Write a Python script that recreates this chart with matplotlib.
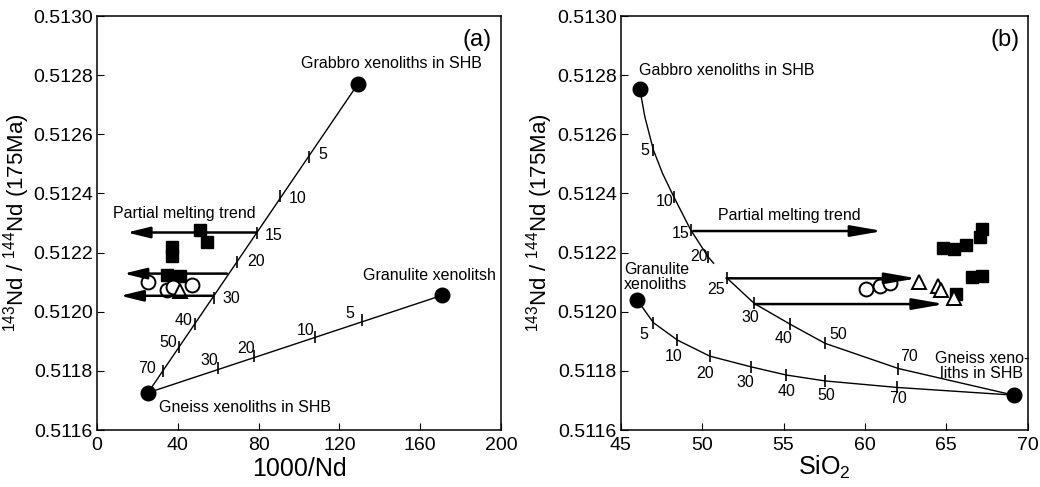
import matplotlib
matplotlib.use("Agg")
import matplotlib.pyplot as plt

plt.rcParams['font.family'] = ['Liberation Sans', 'DejaVu Sans']
plt.rcParams['mathtext.fontset'] = 'custom'
plt.rcParams['mathtext.rm'] = 'Liberation Sans'
plt.rcParams['mathtext.it'] = 'Liberation Sans'

# ---------------- panel (a): 1000/Nd ----------------
a_gabbro = (129.1, 0.51277)
a_gneiss = (25.2, 0.511726)
a_granulite = (171.0, 0.512056)

# mixing ticks, gabbro - gneiss line
a_up_frac = ["5", "10", "15", "20", "30", "40", "50", "70"]
a_up_x = [105.0, 90.7, 79.1, 69.3, 57.7, 48.3, 40.7, 32.6]
a_up_y = [0.512524, 0.51239, 0.512265, 0.512167, 0.512045, 0.51196, 0.511882, 0.5118]
# mixing ticks, granulite - gneiss line
a_lo_frac = ["5", "10", "20", "30"]
a_lo_x = [131.0, 107.7, 77.8, 59.7]
a_lo_y = [0.511972, 0.511916, 0.51185, 0.511811]

a_sq_x = [50.9, 54.5, 36.9, 37.3, 34.5, 41.1]
a_sq_y = [0.512276, 0.512237, 0.512219, 0.512188, 0.512123, 0.512121]
a_ci_x = [25.4, 34.5, 46.9, 37.8]
a_ci_y = [0.5121, 0.512072, 0.512091, 0.512084]
a_tr_x = [41.1]
a_tr_y = [0.512069]

# partial melting arrows: (tail x, tip x, y)
a_arr_tail = [79.1, 64.3, 57.7]
a_arr_tip = [14.8, 13.2, 11.5]
a_arr_y = [0.512268, 0.512129, 0.512054]

# ---------------- panel (b): SiO2 ----------------
b_gabbro = (46.17, 0.512752)
b_granulite = (46.0, 0.51204)
b_gneiss = (69.14, 0.511718)

# curve gabbro -> gneiss (drawn in two pieces)
b_c1a_x = [46.17, 46.47, 47.0, 47.56, 48.25, 49.3, 50.36, 50.7]
b_c1a_y = [0.512752, 0.51266, 0.512547, 0.512468, 0.512389, 0.512276, 0.512186, 0.512164]
b_c1b_x = [51.5, 53.2, 55.4, 57.56, 62.06, 65.6, 69.14]
b_c1b_y = [0.512115, 0.512028, 0.511958, 0.511893, 0.511808, 0.511763, 0.511718]
b_t1_frac = ["5", "10", "15", "20", "25", "30", "40", "50", "70"]
b_t1_x = [47.0, 48.25, 49.3, 50.36, 51.5, 53.2, 55.4, 57.56, 62.06]
b_t1_y = [0.512547, 0.512389, 0.512276, 0.512186, 0.512115, 0.512028, 0.511958, 0.511893, 0.511808]

# curve granulite -> gneiss
b_c2_x = [46.0, 47.0, 48.48, 50.46, 52.98, 55.17, 57.56, 61.98, 69.14]
b_c2_y = [0.51204, 0.511963, 0.511904, 0.51185, 0.511814, 0.511786, 0.511766, 0.511744, 0.511718]
b_t2_frac = ["5", "10", "20", "30", "40", "50", "70"]
b_t2_x = b_c2_x[1:8]
b_t2_y = b_c2_y[1:8]

b_sq_x = [64.8, 65.5, 66.2, 67.1, 67.2, 66.6, 67.2, 65.6]
b_sq_y = [0.512214, 0.512212, 0.512226, 0.512254, 0.512279, 0.512118, 0.512122, 0.51206]
b_ci_x = [60.04, 60.9, 61.55]
b_ci_y = [0.512076, 0.512087, 0.512096]
b_tr_x = [63.35, 64.5, 64.7, 65.5]
b_tr_y = [0.512102, 0.512087, 0.512073, 0.512045]

b_arr_tail = [49.44, 51.5, 53.2]
b_arr_tip = [61.1, 63.2, 64.9]
b_arr_y = [0.512273, 0.512113, 0.512026]

fig = plt.figure(figsize=(10.4, 4.87), dpi=100)
ax1 = fig.add_axes([0.0933, 0.117, 0.3885, 0.850])
ax2 = fig.add_axes([0.597, 0.117, 0.391, 0.850])

lab_kw = dict(fontsize=11.5, textcoords='offset pixels', va='center', ha='center')


def style_axis(ax):
    ax.set_ylim(0.5116, 0.5130)
    ax.set_yticks([0.5116, 0.5118, 0.5120, 0.5122, 0.5124, 0.5126, 0.5128, 0.5130])
    ax.yaxis.set_major_formatter(plt.FormatStrFormatter('%.4f'))
    ax.tick_params(direction='in', length=5, labelsize=14, top=False, right=False, pad=3)
    ax.tick_params(axis='x', pad=5)
    ax.set_ylabel(r'$^{143}$Nd / $^{144}$Nd (175Ma)', fontsize=16, labelpad=1)
    for s in ax.spines.values():
        s.set_linewidth(1.1)


def arrow(ax, tail, tip, y, hl):
    ax.annotate('', xy=(tip, y), xytext=(tail, y),
                arrowprops=dict(arrowstyle='-|>,head_length=%.2f,head_width=0.28' % hl,
                                lw=1.8, color='k', shrinkA=0, shrinkB=0,
                                mutation_scale=12))


# ---- panel a ----
ax1.plot([a_gneiss[0], a_gabbro[0]], [a_gneiss[1], a_gabbro[1]], color='k', lw=1.0)
ax1.plot([a_gneiss[0], a_granulite[0]], [a_gneiss[1], a_granulite[1]], color='k', lw=1.0)
ax1.plot(a_up_x, a_up_y, ls='none', marker='|', ms=9, mew=1.2, color='k')
ax1.plot(a_lo_x, a_lo_y, ls='none', marker='|', ms=9, mew=1.2, color='k')
for i in range(3):
    arrow(ax1, a_arr_tail[i], a_arr_tip[i], a_arr_y[i], 1.15)
ax1.plot([a_gabbro[0], a_gneiss[0], a_granulite[0]], [a_gabbro[1], a_gneiss[1], a_granulite[1]],
         ls='none', marker='o', ms=10.5, color='k')
ax1.plot(a_sq_x, a_sq_y, ls='none', marker='s', ms=8.5, color='k')
ax1.plot(a_ci_x, a_ci_y, ls='none', marker='o', ms=10, mfc='white', mec='k', mew=1.4)
ax1.plot(a_tr_x, a_tr_y, ls='none', marker='^', ms=9.5, mfc='white', mec='k', mew=1.4)

up_off = [(14, 2), (17, -2), (17, -2), (19, 1), (18, 0), (-11, 3), (-11, 4), (-16, 2)]
for f, x, y, o in zip(a_up_frac, a_up_x, a_up_y, up_off):
    ax1.annotate(f, (x, y), xytext=o, **lab_kw)
lo_off = [(-12, 7), (-9, 6), (-8, 8), (-8, 7)]
for f, x, y, o in zip(a_lo_frac, a_lo_x, a_lo_y, lo_off):
    ax1.annotate(f, (x, y), xytext=o, **lab_kw)

ax1.text(145.8, 0.51284, 'Grabbro xenoliths in SHB', fontsize=11.5, ha='center', va='center')
ax1.text(164.4, 0.512124, 'Granulite xenolitsh', fontsize=11.5, ha='center', va='center')
ax1.text(73.4, 0.511677, 'Gneiss xenoliths in SHB', fontsize=11.5, ha='center', va='center')
ax1.text(43.2, 0.512333, 'Partial melting trend', fontsize=11.5, ha='center', va='center')
ax1.text(195.5, 0.512919, '(a)', fontsize=17, ha='right', va='center')

ax1.set_xlim(0, 200)
ax1.set_xticks([0, 40, 80, 120, 160, 200])
ax1.set_xlabel('1000/Nd', fontsize=18, labelpad=2)
style_axis(ax1)

# ---- panel b ----
ax2.plot(b_c1a_x, b_c1a_y, color='k', lw=1.0)
ax2.plot(b_c1b_x, b_c1b_y, color='k', lw=1.0)
ax2.plot(b_c2_x, b_c2_y, color='k', lw=1.0)
ax2.plot(b_t1_x, b_t1_y, ls='none', marker='|', ms=9, mew=1.2, color='k')
ax2.plot(b_t2_x, b_t2_y, ls='none', marker='|', ms=9, mew=1.2, color='k')
for i in range(3):
    arrow(ax2, b_arr_tail[i], b_arr_tip[i], b_arr_y[i], 1.6)
ax2.plot([b_gabbro[0], b_granulite[0], b_gneiss[0]], [b_gabbro[1], b_granulite[1], b_gneiss[1]],
         ls='none', marker='o', ms=10.5, color='k')
ax2.plot(b_sq_x, b_sq_y, ls='none', marker='s', ms=8.5, color='k')
ax2.plot(b_ci_x, b_ci_y, ls='none', marker='o', ms=10, mfc='white', mec='k', mew=1.4)
ax2.plot(b_tr_x, b_tr_y, ls='none', marker='^', ms=9.5, mfc='white', mec='k', mew=1.4)

t1_off = [(-9, 0), (-9, -5), (-10, -3), (-9, 0), (-11, -12), (-4, -14), (-6, -14), (13, 9), (11, 12)]
for f, x, y, o in zip(b_t1_frac, b_t1_x, b_t1_y, t1_off):
    ax2.annotate(f, (x, y), xytext=o, **lab_kw)
t2_off = [(-10, -12), (-4, -16), (-5, -17), (-5, -16), (0, -16), (1, -15), (1, -11)]
for f, x, y, o in zip(b_t2_frac, b_t2_x, b_t2_y, t2_off):
    ax2.annotate(f, (x, y), xytext=o, **lab_kw)

ax2.text(51.49, 0.512817, 'Gabbro xenoliths in SHB', fontsize=11.5, ha='center', va='center')
ax2.text(45.18, 0.512116, 'Granulite\nxenoliths', fontsize=11.5, ha='left', va='center',
         linespacing=1.0)
ax2.text(67.2, 0.511816, 'Gneiss xeno-\nliths in SHB', fontsize=11.5, ha='center', va='center',
         linespacing=1.0)
ax2.text(55.37, 0.512324, 'Partial melting trend', fontsize=11.5, ha='center', va='center')
ax2.text(69.5, 0.512919, '(b)', fontsize=17, ha='right', va='center')

ax2.set_xlim(45, 70)
ax2.set_xticks([45, 50, 55, 60, 65, 70])
ax2.set_xlabel('SiO$_2$', fontsize=18, labelpad=0)
style_axis(ax2)

fig.savefig('out.png', dpi=100)
